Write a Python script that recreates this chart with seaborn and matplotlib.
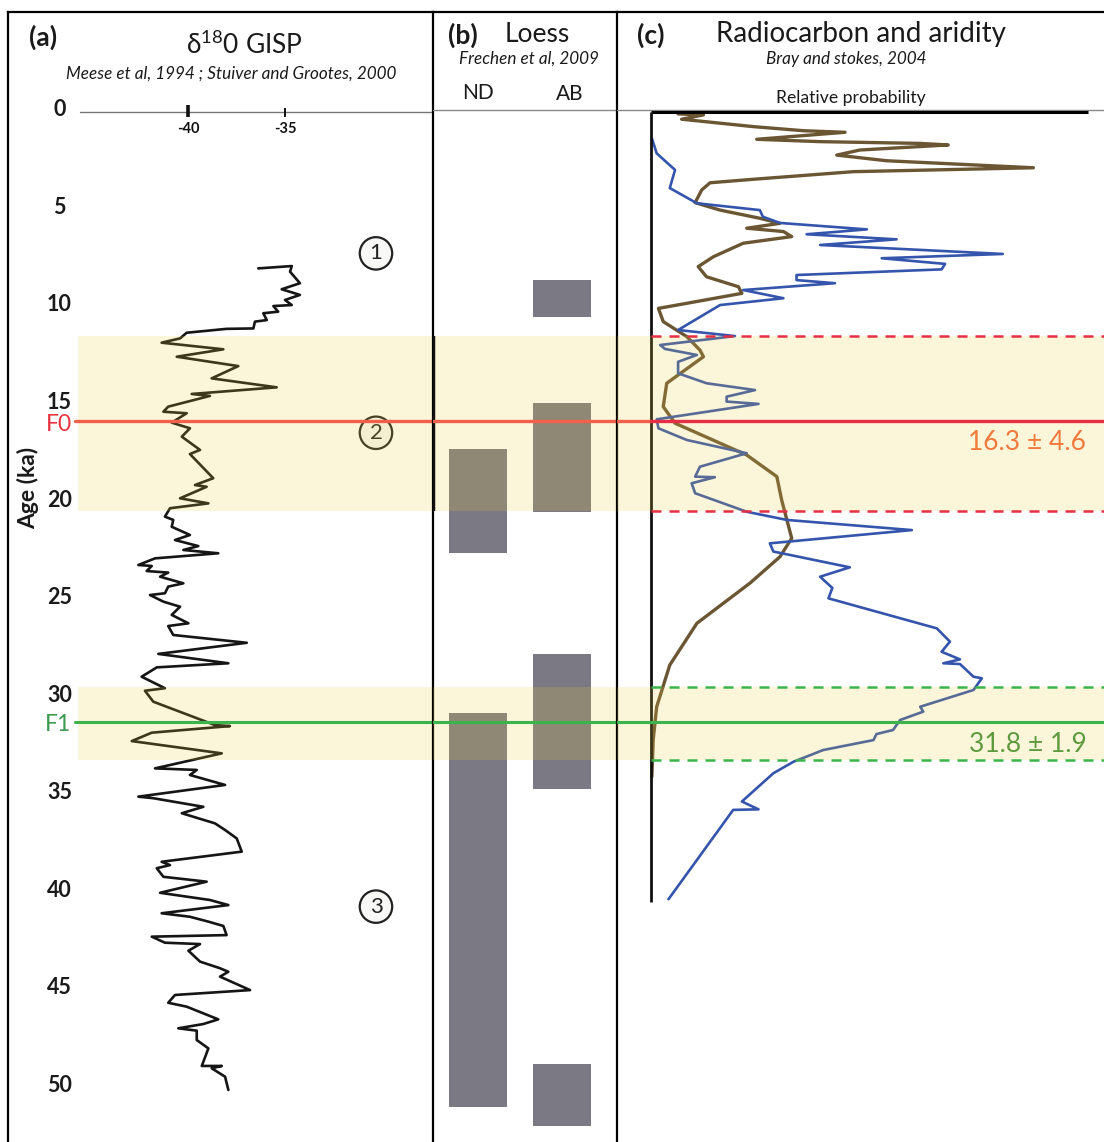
import matplotlib
matplotlib.use("Agg")
import matplotlib.pyplot as plt
import matplotlib.transforms as mtransforms
import seaborn as sns
import numpy as np

# ---------------- data ----------------
gisp_age = [8.02, 7.90, 8.19, 8.78, 9.09, 9.38, 9.64, 9.90, 9.95, 10.24,
            10.32, 10.67, 10.75, 11.10, 11.12, 11.32, 11.61, 11.83, 12.17, 12.55,
            13.03, 13.66, 14.12, 14.46, 14.56, 15.11, 15.37, 15.45, 15.93, 16.22,
            16.65, 17.33, 17.54, 18.78, 19.13, 19.22, 19.81, 20.07, 20.32, 20.75,
            20.92, 21.27, 21.69, 21.95, 22.26, 22.46, 22.63, 22.89, 23.23, 23.28,
            23.54, 23.62, 23.83, 24.17, 24.34, 24.68, 24.77, 25.11, 25.37, 25.79,
            26.22, 26.36, 26.82, 27.22, 27.79, 28.27, 28.48, 28.96, 29.55, 29.68,
            30.24, 31.44, 31.49, 31.83, 32.26, 32.89, 33.66, 33.74, 34.00, 34.51,
            35.11, 35.19, 35.63, 35.96, 36.48, 36.82, 37.25, 37.93, 38.45, 38.62,
            38.78, 39.22, 39.47, 40.04, 40.41, 40.67, 41.09, 41.27, 41.52, 41.74,
            42.21, 42.29, 42.60, 42.67, 43.01, 43.57, 43.91, 44.09, 44.34, 45.03,
            45.28, 45.68, 45.88, 46.53, 46.77, 46.99, 47.11, 47.59, 48.02, 48.92,
            48.92, 49.04, 49.47, 50.15]
gisp_d18o = [-36.38, -34.65, -34.74, -34.23, -35.17, -34.23, -35.00, -34.65, -35.60, -35.35,
             -36.12, -35.94, -36.55, -36.63, -38.01, -40.07, -40.41, -41.36, -38.18, -40.58,
             -37.41, -38.78, -35.43, -39.81, -38.87, -41.02, -41.27, -40.07, -40.84, -39.90,
             -40.32, -39.38, -39.90, -38.70, -39.64, -39.04, -40.41, -38.95, -40.93, -41.19,
             -40.76, -40.84, -39.90, -40.67, -39.47, -40.24, -38.44, -41.70, -42.56, -41.87,
             -42.13, -41.02, -41.44, -40.24, -41.02, -41.19, -41.96, -41.27, -40.41, -40.84,
             -39.98, -41.02, -40.76, -36.97, -41.53, -37.92, -41.61, -42.39, -41.19, -42.22,
             -41.79, -38.61, -37.84, -41.87, -42.90, -38.26, -41.70, -39.55, -39.90, -38.09,
             -42.56, -41.79, -39.21, -40.32, -38.61, -38.09, -37.49, -37.23, -41.36, -40.93,
             -41.61, -41.27, -39.04, -41.44, -38.87, -37.92, -41.36, -39.90, -38.95, -38.18,
             -38.01, -41.87, -41.19, -39.38, -39.98, -39.38, -38.35, -37.92, -38.35, -36.80,
             -40.67, -41.02, -40.07, -38.44, -39.21, -40.50, -39.55, -39.55, -38.95, -39.29,
             -38.26, -38.78, -38.09, -37.92]

c14_age = [1.35, 2.12, 2.97, 3.90, 4.68, 5.03, 5.37, 5.69, 6.02, 6.27,
           6.53, 6.82, 7.28, 7.50, 7.79, 8.07, 8.36, 8.62, 8.78, 9.13,
           9.55, 9.90, 11.18, 11.49, 11.95, 12.15, 12.46, 12.81, 13.40, 13.91,
           14.26, 14.60, 14.85, 14.97, 15.76, 16.22, 16.82, 17.50, 18.19, 18.70,
           18.73, 19.04, 19.55, 20.50, 20.92, 21.44, 22.12, 22.54, 23.35, 23.83,
           24.41, 24.94, 26.48, 27.16, 27.68, 28.07, 28.27, 28.31, 28.96, 29.04,
           29.64, 30.50, 30.75, 31.18, 31.69, 31.90, 32.21, 32.72, 33.32, 33.91,
           35.36, 35.76, 35.79, 40.37]
c14_prob = [0.2, 1.3, 5.5, 4.3, 10.5, 24.9, 25.6, 29.5, 49.4, 35.6,
            56.2, 38.7, 80.5, 52.8, 67.3, 66.5, 33.3, 33.3, 42.1, 21.1,
            30.3, 15.8, 6.2, 19.2, 2.1, 3.2, 10.5, 6.2, 6.2, 12.7,
            23.8, 17.3, 17.3, 24.6, 1.3, 1.7, 8.2, 21.9, 11.2, 10.1,
            14.6, 9.3, 10.1, 21.9, 31.1, 59.7, 27.2, 28.0, 45.5, 38.7,
            41.5, 40.6, 65.4, 68.4, 66.5, 70.7, 66.9, 70.7, 73.8, 75.7,
            73.8, 61.6, 62.3, 57.0, 55.4, 51.6, 50.9, 39.4, 32.6, 28.0,
            20.8, 24.6, 18.8, 4.0]

arid_age = [0.10, 0.15, 0.37, 0.75, 0.96, 1.04, 1.40, 1.52, 1.61, 1.69,
            1.95, 2.21, 2.50, 2.86, 3.06, 3.45, 3.63, 4.00, 4.65, 5.03,
            5.45, 5.71, 5.96, 6.13, 6.39, 6.73, 7.42, 7.93, 8.45, 8.96,
            9.30, 9.81, 10.07, 10.75, 11.52, 12.21, 12.55, 13.91, 15.11, 15.96,
            17.59, 18.70, 19.90, 21.86, 22.81, 24.15, 26.22, 28.36, 30.50, 32.21,
            34.09]
arid_prob = [6.2, 12.0, 7.0, 23.4, 34.9, 44.4, 24.2, 38.7, 61.6, 68.0,
             47.8, 42.5, 53.9, 87.5, 46.3, 23.4, 13.5, 11.6, 10.1, 15.8,
             24.9, 29.5, 21.9, 30.3, 32.2, 21.1, 14.3, 10.8, 12.7, 20.0,
             20.8, 8.2, 1.7, 2.8, 8.2, 11.2, 12.0, 3.6, 2.8, 5.5,
             21.9, 28.8, 29.9, 32.2, 29.5, 22.7, 10.5, 4.3, 1.3, 0.5,
             0.2]

loess_site = [0, 0, 1, 1, 1, 1]          # 0 = ND, 1 = AB
loess_start = [17.3, 30.8, 8.6, 14.9, 27.8, 48.8]
loess_end = [22.6, 51.0, 10.5, 20.5, 34.7, 52.0]
loess_labels = ["ND", "AB"]

band_lo = [11.5, 29.5]
band_hi = [20.45, 33.25]
f_age = [15.85, 31.3]
f_name = ["F0", "F1"]
f_value = ["16.3 ± 4.6", "31.8 ± 1.9"]

zone_age = [7.25, 16.45, 40.75]
zone_label = ["1", "2", "3"]
age_ticks = [0, 5, 10, 15, 20, 25, 30, 35, 40, 45, 50]
d18o_ticks = [-40, -35]

# ---------------- style ----------------
sns.set_theme(style="white")
plt.rcParams["font.family"] = ["Lato", "DejaVu Sans"]
plt.rcParams["mathtext.fontset"] = "custom"
plt.rcParams["mathtext.rm"] = "Lato"

W, H = 1104, 1142
fig = plt.figure(figsize=(W / 100, H / 100), dpi=100)
fig.patch.set_facecolor("white")


def box(x0, y0, x1, y1):
    return [x0 / W, 1 - y1 / H, (x1 - x0) / W, (y1 - y0) / H]


def ft(x, y, s, **kw):
    kw.setdefault("va", "center")
    kw.setdefault("ha", "center")
    fig.text(x / W, 1 - y / H, s, **kw)


YLIM = (52.82, -5.128)
ax_a = fig.add_axes(box(8, 12, 433, 1142))
ax_b = fig.add_axes(box(433, 12, 617, 1142))
ax_c = fig.add_axes(box(617, 12, 1104, 1142))

YEL = "#eaca37"
BAND_A = 0.19
SALMON = "#f0604a"
CRIMSON = "#e62e45"
GREEN = "#3cb44b"
INK = "#1a1a1a"

for ax in (ax_a, ax_b, ax_c):
    ax.patch.set_visible(False)
    for s in ax.spines.values():
        s.set_color("black")
        s.set_linewidth(1.6)
        s.set_zorder(8)
    ax.spines["bottom"].set_visible(False)
ax_b.spines["left"].set_visible(False)
ax_c.spines["left"].set_visible(False)
ax_c.spines["right"].set_visible(False)

# ---- panel a ----
sns.lineplot(x=gisp_d18o, y=gisp_age, sort=False, orient="y", estimator=None,
             color="#151515", lw=1.9, ax=ax_a, zorder=3)
ax_a.set_ylim(*YLIM)
ax_a.set_xlim(-49.28, -27.37)
ax_a.set_xticks([])
ax_a.set_yticks(age_ticks)
ax_a.set_yticklabels([str(t) for t in age_ticks], fontweight="bold", fontsize=15.5,
                     color=INK)
ax_a.tick_params(axis="y", length=0, pad=-37)
shift_up = mtransforms.ScaledTranslation(0, 4 / 100, fig.dpi_scale_trans)
for lbl in ax_a.get_yticklabels():
    lbl.set_ha("center")
    lbl.set_transform(lbl.get_transform() + shift_up)
ax_a.set_ylabel("")
ax_a.set_xlabel("")

# age-0 axis line and δ18O ticks
ax_a.axhline(0, xmin=(80 - 8) / 425, xmax=1, color="#777777", lw=1.0, zorder=2)
ax_a.vlines(d18o_ticks[0], -0.35, 0.28, color="#111111", lw=2.6, zorder=3)
ax_a.vlines(d18o_ticks[1], -0.2, 0.28, color="#111111", lw=1.4, zorder=3)
for t in d18o_ticks:
    ax_a.text(t, 0.85, str(t), ha="center", va="center", fontsize=10.5,
              fontweight="bold", color="#111111")

for a, lab in zip(zone_age, zone_label):
    ax_a.text(-30.31, a, lab, ha="center", va="center", fontsize=16, color="#222222",
              bbox=dict(boxstyle="circle,pad=0.28", fc="#f8f8f6", ec="#222222", lw=1.6),
              zorder=4)

ax_a.text(-48.25, 19.3, "Age (ka)", rotation=90, ha="center", va="center",
          fontsize=16.5, fontweight="bold", color=INK)

# ---- panel b ----
ax_b.bar(loess_site, [e - s for s, e in zip(loess_start, loess_end)],
         bottom=loess_start, width=0.68, color="#7a7984", lw=0, zorder=3)
ax_b.set_ylim(*YLIM)
ax_b.set_xlim(-0.536, 1.655)
ax_b.set_xticks([])
ax_b.set_yticks([])
ax_b.axhline(-0.1, color="#888888", lw=1.0, zorder=2)
ax_b.vlines(-0.536, band_lo[0], band_hi[0], color="#111111", lw=3.2, zorder=6)

# ---- panel c ----
sns.lineplot(x=arid_prob, y=arid_age, sort=False, orient="y", estimator=None,
             color="#6b5634", lw=2.4, ax=ax_c, zorder=3)
sns.lineplot(x=c14_prob, y=c14_age, sort=False, orient="y", estimator=None,
             color="#3555ad", lw=1.9, ax=ax_c, zorder=3)
ax_c.set_ylim(*YLIM)
ax_c.set_xlim(-7.78, 103.66)
ax_c.set_xticks([])
ax_c.set_yticks([])
ax_c.set_xlabel("")
ax_c.set_ylabel("")
ax_c.axhline(-0.1, color="#888888", lw=1.0, zorder=2)
ax_c.plot([0, 100], [0, 0], color="black", lw=2.2, solid_capstyle="butt", zorder=4)
ax_c.vlines(0, 0, 40.5, color="#111111", lw=2.0, zorder=4)

# ---- bands and event lines ----
for lo, hi in zip(band_lo, band_hi):
    ax_a.axhspan(lo, hi, xmin=(78 - 8) / 425, xmax=1, color=YEL, alpha=BAND_A, lw=0, zorder=5)
    ax_b.axhspan(lo, hi, color=YEL, alpha=BAND_A, lw=0, zorder=5)
    ax_c.axhspan(lo, hi, color=YEL, alpha=BAND_A, lw=0, zorder=5)

dash_col = [CRIMSON, GREEN]
for i, (lo, hi) in enumerate(zip(band_lo, band_hi)):
    for v in (lo, hi):
        ax_c.plot([0, 103.66], [v, v], color=dash_col[i], lw=1.8,
                  dashes=(4, 3.2), zorder=6)

# F0
ax_a.axhline(f_age[0], xmin=(75 - 8) / 425, xmax=1, color=SALMON, lw=2.4, zorder=6)
ax_b.axhline(f_age[0], color=SALMON, lw=2.4, zorder=6)
ax_c.plot([-7.78, 0], [f_age[0]] * 2, color=SALMON, lw=2.4, zorder=6)
ax_c.plot([0, 103.66], [f_age[0]] * 2, color=CRIMSON, lw=2.4, zorder=6)
# F1
for ax, xm in ((ax_a, (75 - 8) / 425), (ax_b, 0), (ax_c, 0)):
    ax.axhline(f_age[1], xmin=xm, xmax=1, color=GREEN, lw=2.2, zorder=6)

ax_a.text(-46.0, f_age[0] + 0.15, f_name[0], ha="right", va="center", fontsize=16.5,
          color="#e8333f", zorder=7)
ax_a.text(-46.0, f_age[1] + 0.1, f_name[1], ha="right", va="center", fontsize=16.5,
          color="#3a9a50", zorder=7)
ax_c.text(99.6, 16.97, f_value[0], ha="right", va="center", fontsize=19,
          color="#f07a3c", zorder=7)
ax_c.text(99.6, 32.45, f_value[1], ha="right", va="center", fontsize=19,
          color="#5e9a3e", zorder=7)

# ---------------- headers ----------------
ft(43, 37, "(a)", fontsize=19, fontweight="bold", color=INK)
ft(244, 45, r"δ$^{18}$0 GISP", fontsize=19, color=INK)
ft(231, 74, "Meese et al, 1994 ; Stuiver and Grootes, 2000", fontsize=12.3,
   style="italic", color=INK)

ft(463, 35, "(b)", fontsize=19, fontweight="bold", color=INK)
ft(537, 35, "Loess", fontsize=19, color=INK)
ft(529, 59, "Frechen et al, 2009", fontsize=12.3, style="italic", color=INK)
ft(478, 93, loess_labels[0], fontsize=15, color=INK)
ft(570, 94, loess_labels[1], fontsize=15, color=INK)

ft(651, 35, "(c)", fontsize=19, fontweight="bold", color=INK)
ft(861, 34, "Radiocarbon and aridity", fontsize=20, color=INK)
ft(846, 59, "Bray and stokes, 2004", fontsize=12.3, style="italic", color=INK)
ft(851, 98, "Relative probability", fontsize=12.7, color=INK)

fig.savefig("out.png", dpi=100, facecolor="white")
